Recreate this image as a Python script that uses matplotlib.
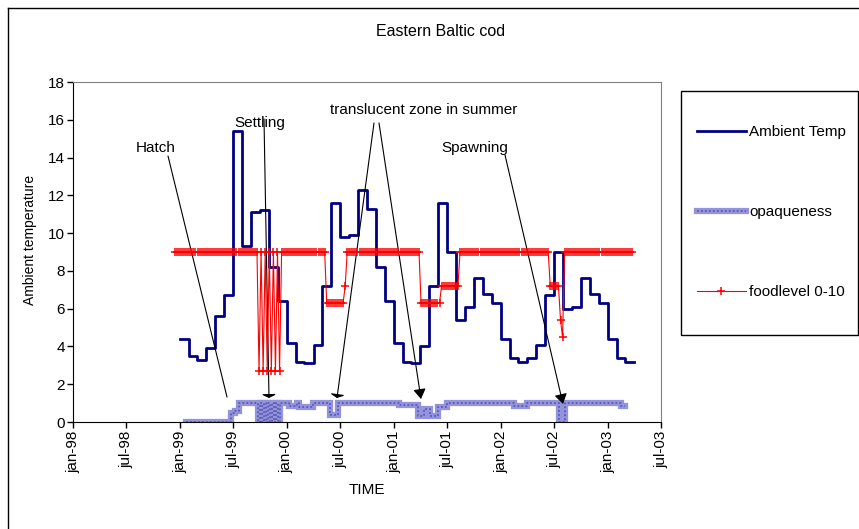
import numpy as np
import pandas as pd
import matplotlib
matplotlib.use('Agg')
import matplotlib.pyplot as plt
import matplotlib.dates as mdates
from matplotlib.lines import Line2D
from matplotlib.patches import Rectangle

plt.rcParams['font.family'] = ['Liberation Sans', 'DejaVu Sans']
plt.rcParams['font.size'] = 11

# ambient temperature, one value per month from jan-99 to mar-03
temp_start = '1999-01-01'
temp_values = [4.4, 3.5, 3.3, 3.9, 5.6, 6.7, 15.4, 9.3, 11.1, 11.2, 8.2, 6.4,
               4.2, 3.2, 3.1, 4.1, 7.2, 11.6, 9.8, 9.9, 12.3, 11.3, 8.2, 6.4,
               4.2, 3.2, 3.1, 4.0, 7.2, 11.6, 9.0, 5.4, 6.1, 7.6, 6.8, 6.3,
               4.4, 3.4, 3.2, 3.4, 4.1, 6.7, 9.0, 6.0, 6.1, 7.6, 6.8, 6.3,
               4.4, 3.4, 3.2]

# foodlevel 0-10, weekly from 15 dec 1998, as (level, number of weeks)
food_start = '1998-12-15'
food_runs = [(9, 41),
             (2.7, 1), (9, 1), (2.7, 1), (9, 1), (2.7, 1), (9, 1),
             (2.7, 1), (9, 1), (2.7, 1), (9, 1), (2.7, 1),
             (9, 22), (6.3, 9), (7.2, 1), (9, 36), (6.3, 10), (7.2, 9),
             (9, 44), (7.2, 5), (5.4, 1), (4.5, 1), (9, 34)]

# opaqueness, weekly from 22 jan 1999, as (level, number of weeks)
opaq_start = '1999-01-22'
opaq_runs = [(0, 22), (0.5, 2), (0.6, 2), (1.0, 9),
             (0, 1), (1, 1), (0, 1), (1, 1), (0, 1), (1, 1),
             (0, 1), (1, 1), (0, 1), (1, 1), (0, 1),
             (1.0, 4), (0.85, 4), (1.0, 1), (0.8, 7), (1.0, 8), (0.35, 4),
             (1.0, 30), (0.9, 9), (0.3, 3), (0.7, 3), (0.3, 4), (0.8, 4),
             (1.0, 33), (0.85, 6), (1.0, 16), (0, 3), (1.0, 27), (0.85, 2)]

W, H = 859, 529


def fp(x, y):
    # figure pixel (from top left) -> figure fraction
    return (x / W, 1 - y / H)


def expand(runs):
    levels = [r[0] for r in runs]
    counts = [r[1] for r in runs]
    return np.repeat(levels, counts)


fig = plt.figure(figsize=(W / 100, H / 100), dpi=100)
ax = fig.add_axes([73 / W, 1 - 422 / H, (661 - 73) / W, (422 - 82) / H])

# temperature (monthly steps)
temp_dates = pd.date_range(temp_start, periods=len(temp_values) + 1, freq='MS')
temp_y = temp_values + [temp_values[-1]]
l_temp, = ax.plot(temp_dates, temp_y, drawstyle='steps-post', color='#000080', lw=2,
                  label='Ambient Temp', zorder=3)

# opaqueness (weekly steps, textured line)
opaq = expand(opaq_runs)
opaq_dates = pd.date_range(opaq_start, periods=len(opaq) + 1, freq='7D')
opaq_y = np.append(opaq, opaq[-1])
l_op1, = ax.plot(opaq_dates, opaq_y, drawstyle='steps-post', color='#9494dc', lw=4.5,
                 solid_joinstyle='miter', zorder=2)
l_op2, = ax.plot(opaq_dates, opaq_y, drawstyle='steps-post', color='#5a5ab4', lw=1.3,
                 linestyle=(0, (1, 1.2)), zorder=2)

# food level
food = expand(food_runs)
food_dates = pd.date_range(food_start, periods=len(food), freq='7D')
l_food, = ax.plot(food_dates, food, color='#ff0000', lw=0.8, marker='+', ms=6, mew=1.1,
                  zorder=4)

ax.set_xlim(pd.Timestamp('1998-01-01'), pd.Timestamp('2003-07-01'))
ax.set_ylim(0, 18)
ax.set_yticks(range(0, 19, 2))
ax.xaxis.set_major_locator(mdates.MonthLocator(bymonth=[1, 7]))
ax.xaxis.set_major_formatter(plt.FuncFormatter(
    lambda v, pos: mdates.num2date(v).strftime('%b-%y').lower()))
plt.setp(ax.get_xticklabels(), rotation=90)
ax.tick_params(direction='out', length=4, width=1, labelsize=11, pad=2)

for s in ['top', 'right']:
    ax.spines[s].set_color('#808080')
for s in ['left', 'bottom']:
    ax.spines[s].set_color('black')

ax.set_ylabel('Ambient temperature', fontsize=10)
ax.yaxis.set_label_coords(-0.062, 0.535)
ax.set_xlabel('TIME', fontsize=11)
ax.xaxis.set_label_coords(0.5, -0.18)

fig.text(*fp(441, 31), 'Eastern Baltic cod', ha='center', va='center', fontsize=11.5)

# annotations
ann_kw = dict(xycoords='figure fraction', textcoords='figure fraction')
flat = dict(arrowstyle='-|>,head_length=0.2,head_width=0.42', color='black', lw=0.8,
            shrinkA=0, shrinkB=0, mutation_scale=10)
tri = dict(arrowstyle='-|>,head_length=0.6,head_width=0.38', color='black', lw=0.8,
           shrinkA=0, shrinkB=0, mutation_scale=10)
line = dict(arrowstyle='-', color='black', lw=0.8, shrinkA=0, shrinkB=0)

fig.text(*fp(156, 148), 'Hatch', ha='center', va='center')
ax.annotate('', xy=fp(227, 397), xytext=fp(168, 156), arrowprops=line, **ann_kw)

fig.text(*fp(260, 123), 'Settling', ha='center', va='center')
ax.annotate('', xy=fp(269, 398), xytext=fp(264, 119), arrowprops=flat, **ann_kw)

fig.text(*fp(424, 110), 'translucent zone in summer', ha='center', va='center')
ax.annotate('', xy=fp(337, 398), xytext=fp(374, 123), arrowprops=flat, **ann_kw)
ax.annotate('', xy=fp(421, 399), xytext=fp(379, 123), arrowprops=tri, **ann_kw)

fig.text(*fp(475, 148), 'Spawning', ha='center', va='center')
ax.annotate('', xy=fp(563, 404), xytext=fp(505, 155), arrowprops=tri, **ann_kw)

# legend box
x0, y0 = fp(681, 335)
x1, y1 = fp(858, 91)
fig.add_artist(Rectangle((x0, y0), x1 - x0, y1 - y0, transform=fig.transFigure,
                         fill=False, edgecolor='black', lw=1))
leg = fig.legend([l_temp, (l_op1, l_op2), l_food],
                 ['Ambient Temp', 'opaqueness', 'foodlevel 0-10'],
                 loc='upper left', bbox_to_anchor=fp(697, 125), frameon=False,
                 borderpad=0, borderaxespad=0, labelspacing=4.32, handlelength=3.2,
                 handletextpad=0.2, numpoints=1, fontsize=11)

# outer chart border
fig.add_artist(Line2D([8 / W, 8 / W], [0, 1 - 8 / H], color='black', lw=1))
fig.add_artist(Line2D([8 / W, 1], [1 - 8 / H, 1 - 8 / H], color='black', lw=1))

fig.savefig('out.png', dpi=100)
